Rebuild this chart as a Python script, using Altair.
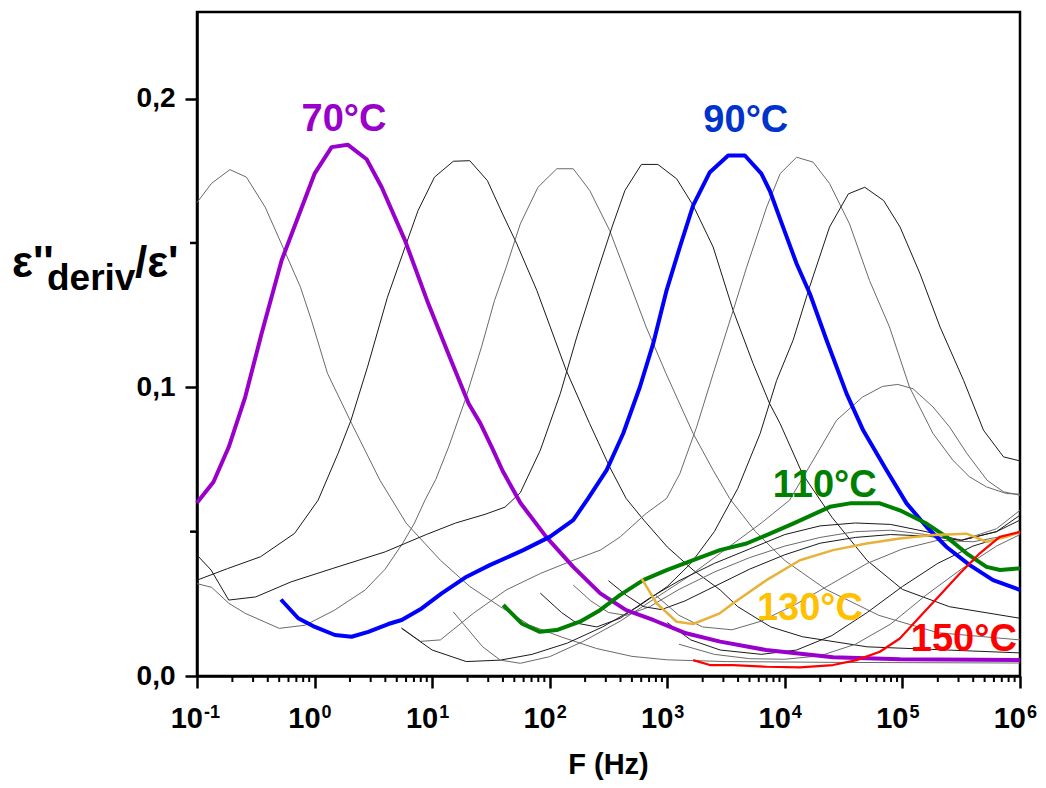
import altair as alt
import pandas as pd

FONT = "Liberation Sans"

# ---- curves: log10(F / Hz) and eps''_deriv / eps' values ----
T65_lg = [-1.0, -0.875, -0.72, -0.58, -0.42, -0.27, -0.12, -0.025, 0.11, 0.315, 0.556, 0.78, 1.07, 1.32, 1.58, 1.83, 2.1, 2.4, 2.7, 3.0, 3.5, 4.5, 6.0]
T65_v = [0.164, 0.1707, 0.1754, 0.1728, 0.1624, 0.1486, 0.1347, 0.123, 0.1048, 0.0875, 0.0678, 0.0529, 0.0401, 0.031, 0.024, 0.0176, 0.0135, 0.0095, 0.0068, 0.0056, 0.005, 0.0047, 0.0045]

T70_lg = [-1.0, -0.86, -0.73, -0.59, -0.45, -0.28, -0.14, 0.0, 0.145, 0.284, 0.443, 0.571, 0.769, 0.967, 1.137, 1.31, 1.41, 1.51, 1.6, 1.75, 1.97, 2.2, 2.43, 2.65, 2.88, 3.16, 3.45, 3.84, 4.41, 4.98, 6.0]
T70_v = [0.060, 0.0672, 0.0793, 0.0966, 0.1187, 0.144, 0.159, 0.174, 0.1832, 0.184, 0.179, 0.1693, 0.1509, 0.129, 0.1117, 0.0944, 0.0875, 0.079, 0.071, 0.060, 0.0482, 0.0378, 0.0286, 0.0228, 0.0194, 0.0148, 0.0119, 0.009, 0.0065, 0.0058, 0.0055]

T75_lg = [-1.0, -0.74, -0.46, -0.17, 0.03, 0.2, 0.31, 0.45, 0.62, 0.77, 0.88, 1.02, 1.18, 1.32, 1.47, 1.6, 1.72, 1.89, 2.14, 2.34, 2.51, 2.65, 2.8, 3.0, 3.22, 3.45, 3.6, 3.88, 4.15, 4.7, 6.0]
T75_v = [0.0332, 0.0372, 0.0413, 0.0494, 0.0609, 0.0771, 0.0886, 0.107, 0.1312, 0.1486, 0.1612, 0.1728, 0.1783, 0.1785, 0.1716, 0.16, 0.1497, 0.1336, 0.1059, 0.0874, 0.0724, 0.0615, 0.054, 0.0447, 0.0367, 0.0298, 0.024, 0.017, 0.0136, 0.0101, 0.008]

T80_lg = [-1.0, -0.875, -0.73, -0.59, -0.3, -0.08, 0.17, 0.43, 0.6, 0.75, 0.85, 0.94, 1.03, 1.14, 1.28, 1.42, 1.53, 1.63, 1.75, 1.9, 2.06, 2.2, 2.34, 2.51, 2.65, 2.82, 2.99, 3.22, 3.39, 3.53, 3.75, 4.0, 4.35, 4.8, 5.3, 6.0]
T80_v = [0.032, 0.0307, 0.0252, 0.0217, 0.0165, 0.0176, 0.0228, 0.0298, 0.037, 0.046, 0.053, 0.061, 0.068, 0.0793, 0.0955, 0.114, 0.13, 0.1416, 0.1566, 0.1693, 0.1757, 0.1757, 0.1682, 0.1543, 0.1393, 0.1209, 0.1047, 0.084, 0.0713, 0.0615, 0.05, 0.04, 0.03, 0.021, 0.015, 0.0125]

T85_lg = [-1.0, -0.88, -0.73, -0.5, -0.2, 0.15, 0.6, 0.95, 1.2, 1.45, 1.62, 1.75, 1.92, 2.09, 2.23, 2.4, 2.53, 2.64, 2.78, 2.92, 3.08, 3.22, 3.39, 3.56, 3.73, 3.87, 3.96, 4.15, 4.4, 4.7, 5.0, 5.4, 6.0]
T85_v = [0.0419, 0.0367, 0.0263, 0.0274, 0.0326, 0.0372, 0.043, 0.049, 0.053, 0.056, 0.0585, 0.0635, 0.0782, 0.0978, 0.1174, 0.1393, 0.1555, 0.1682, 0.1772, 0.1772, 0.1722, 0.163, 0.1486, 0.1266, 0.1082, 0.0944, 0.0874, 0.07, 0.055, 0.04, 0.03, 0.024, 0.02]

T90_lg = [-0.286, -0.139, 0.003, 0.173, 0.315, 0.457, 0.627, 0.741, 0.911, 1.081, 1.293, 1.49, 1.775, 2.0, 2.2, 2.327, 2.484, 2.625, 2.767, 2.88, 2.994, 3.107, 3.22, 3.362, 3.518, 3.66, 3.8, 3.873, 3.985, 4.1, 4.213, 4.355, 4.525, 4.666, 4.865, 5.035, 5.205, 5.375, 5.573, 5.771, 6.0]
T90_v = [0.0265, 0.020, 0.017, 0.0142, 0.0136, 0.0153, 0.018, 0.0194, 0.0234, 0.0286, 0.0344, 0.0384, 0.0436, 0.0482, 0.054, 0.0615, 0.0713, 0.084, 0.1001, 0.1151, 0.1336, 0.1486, 0.163, 0.1745, 0.1803, 0.1803, 0.174, 0.168, 0.1555, 0.1428, 0.1324, 0.1163, 0.0978, 0.0851, 0.0713, 0.0598, 0.0517, 0.0447, 0.0384, 0.0332, 0.0298]

T95_lg = [0.74, 0.9, 1.07, 1.35, 1.63, 1.92, 2.2, 2.43, 2.6, 2.82, 2.994, 3.107, 3.25, 3.39, 3.56, 3.675, 3.845, 3.96, 4.1, 4.24, 4.38, 4.55, 4.72, 4.89, 5.06, 5.26, 5.43, 5.57, 5.715, 5.885, 6.0]
T95_v = [0.0167, 0.012, 0.0125, 0.0217, 0.0298, 0.0355, 0.0401, 0.0436, 0.0482, 0.0563, 0.0615, 0.0701, 0.0863, 0.1047, 0.1266, 0.1416, 0.1624, 0.174, 0.1797, 0.178, 0.1706, 0.1566, 0.137, 0.1209, 0.1001, 0.084, 0.0747, 0.069, 0.0655, 0.0632, 0.063]

T100_lg = [0.74, 1.0, 1.29, 1.58, 1.85, 2.15, 2.45, 2.75, 3.0, 3.2, 3.4, 3.6, 3.79, 3.93, 4.07, 4.21, 4.38, 4.54, 4.68, 4.84, 4.98, 5.15, 5.32, 5.52, 5.69, 5.86, 6.0]
T100_v = [0.0165, 0.009, 0.005, 0.0055, 0.0075, 0.0114, 0.017, 0.024, 0.031, 0.039, 0.05, 0.065, 0.084, 0.1024, 0.1163, 0.1347, 0.1555, 0.167, 0.1693, 0.1647, 0.1555, 0.1393, 0.1209, 0.1024, 0.0851, 0.0759, 0.0745]

T105_lg = [1.18, 1.43, 1.58, 1.75, 2.0, 2.28, 2.6, 2.9, 3.2, 3.5, 3.8, 4.04, 4.24, 4.44, 4.66, 4.83, 4.96, 5.09, 5.26, 5.4, 5.55, 5.72, 5.86, 6.0]
T105_v = [0.0222, 0.0101, 0.0055, 0.0044, 0.0067, 0.0119, 0.019, 0.027, 0.035, 0.044, 0.053, 0.0609, 0.0747, 0.0886, 0.0966, 0.1003, 0.101, 0.0995, 0.0932, 0.0863, 0.077, 0.0678, 0.0638, 0.0626]

T110_lg = [1.605, 1.761, 1.917, 2.059, 2.257, 2.427, 2.597, 2.795, 2.994, 3.22, 3.447, 3.674, 3.844, 4.07, 4.383, 4.553, 4.808, 4.978, 5.205, 5.375, 5.545, 5.715, 5.83, 6.0]
T110_v = [0.0246, 0.0182, 0.0153, 0.0159, 0.0188, 0.0228, 0.028, 0.0332, 0.0367, 0.0401, 0.0436, 0.0459, 0.0488, 0.0528, 0.0586, 0.0598, 0.0598, 0.0574, 0.0528, 0.0482, 0.0425, 0.0378, 0.0367, 0.0373]

T115_lg = [1.92, 2.1, 2.23, 2.4, 2.6, 2.85, 3.1, 3.4, 3.7, 4.0, 4.3, 4.6, 4.9, 5.2, 5.5, 5.8, 6.0]
T115_v = [0.0287, 0.022, 0.0183, 0.017, 0.02, 0.027, 0.033, 0.039, 0.044, 0.049, 0.052, 0.053, 0.0525, 0.05, 0.047, 0.05, 0.0557]

T120_lg = [2.2, 2.35, 2.5, 2.65, 2.85, 3.1, 3.4, 3.7, 4.0, 4.3, 4.6, 4.9, 5.2, 5.5, 5.8, 6.0]
T120_v = [0.0315, 0.026, 0.022, 0.021, 0.024, 0.03, 0.036, 0.041, 0.045, 0.048, 0.05, 0.0505, 0.049, 0.047, 0.051, 0.0574]

T125_lg = [2.5, 2.65, 2.8, 2.95, 3.15, 3.4, 3.7, 4.0, 4.3, 4.6, 4.9, 5.2, 5.5, 5.8, 6.0]
T125_v = [0.033, 0.028, 0.024, 0.023, 0.026, 0.031, 0.037, 0.042, 0.046, 0.048, 0.049, 0.0485, 0.047, 0.05, 0.054]

T130_lg = [2.781, 2.909, 3.079, 3.22, 3.447, 3.56, 3.844, 4.128, 4.41, 4.695, 4.978, 5.261, 5.545, 5.715, 5.885, 6.0]
T130_v = [0.0338, 0.0252, 0.0188, 0.018, 0.0217, 0.0252, 0.0332, 0.0401, 0.0436, 0.0459, 0.0476, 0.0488, 0.0493, 0.0465, 0.0482, 0.0499]

T135_lg = [2.9, 3.1, 3.3, 3.55, 3.8, 4.1, 4.4, 4.7, 5.0, 5.3, 5.6, 6.0]
T135_v = [0.028, 0.021, 0.017, 0.016, 0.019, 0.025, 0.032, 0.039, 0.044, 0.047, 0.0465, 0.0495]

T140_lg = [3.0, 3.2, 3.45, 3.8, 4.1, 4.4, 4.7, 5.0, 5.3, 5.6, 6.0]
T140_v = [0.0185, 0.0125, 0.009, 0.0075, 0.009, 0.014, 0.022, 0.031, 0.039, 0.045, 0.05]

T145_lg = [3.1, 3.4, 3.7, 4.0, 4.3, 4.6, 4.9, 5.2, 5.5, 5.8, 6.0]
T145_v = [0.011, 0.0075, 0.006, 0.0058, 0.007, 0.011, 0.018, 0.028, 0.037, 0.045, 0.049]

T150_lg = [3.22, 3.362, 3.56, 3.844, 4.128, 4.41, 4.61, 4.808, 4.978, 5.148, 5.318, 5.488, 5.658, 5.828, 6.0]
T150_v = [0.0055, 0.0038, 0.0038, 0.0032, 0.003, 0.0038, 0.0055, 0.0084, 0.013, 0.0205, 0.028, 0.0355, 0.0425, 0.0482, 0.0499]

# thin background curves: (name, shade, lg, v)
gray_curves = [
    ("65", "g", T65_lg, T65_v), ("75", "k", T75_lg, T75_v), ("80", "g", T80_lg, T80_v),
    ("85", "k", T85_lg, T85_v), ("95", "g", T95_lg, T95_v), ("100", "k", T100_lg, T100_v),
    ("105", "g", T105_lg, T105_v), ("115", "k", T115_lg, T115_v), ("120", "g", T120_lg, T120_v),
    ("125", "k", T125_lg, T125_v), ("135", "g", T135_lg, T135_v), ("140", "k", T140_lg, T140_v),
    ("145", "g", T145_lg, T145_v),
]
# highlighted curves: (name, colour, width, lg, v)
bold_curves = [
    ("70", "#9900CC", 4.0, T70_lg, T70_v),
    ("90", "#0000FF", 4.0, T90_lg, T90_v),
    ("110", "#008000", 4.0, T110_lg, T110_v),
    ("130", "#E8B23A", 2.5, T130_lg, T130_v),
    ("150", "#FF0000", 2.2, T150_lg, T150_v),
]
# curve labels: text, colour, log10 F, value (baseline)
label_text = ["70°C", "90°C", "110°C", "130°C", "150°C"]
label_color = ["#9900CC", "#0033CC", "#008000", "#FFC000", "#FF0000"]
label_lg = [0.25, 3.668, 4.339, 4.213, 5.522]
label_v = [0.1887, 0.1883, 0.0619, 0.0194, 0.0087]

# axis ticks
x_major = [0.1, 1, 10, 100, 1000, 10000, 100000, 1000000]
x_exp = ["-1", "0", "1", "2", "3", "4", "5", "6"]
x_minor = [m * 10.0 ** k for k in range(-1, 6) for m in range(2, 10)]
y_major = [0.0, 0.1, 0.2]
y_minor = [0.05, 0.15]

W, H = 823, 664

rows = []
for name, shade, lgs, vs in gray_curves:
    for i, (a, b) in enumerate(zip(lgs, vs)):
        rows.append({"series": name, "shade": shade, "idx": i, "f": 10 ** a, "v": b})
df_gray = pd.DataFrame(rows)

xs = alt.Scale(type="log", domain=[0.1, 1e6])
ys = alt.Scale(domain=[0, 0.23])

x_axis = alt.Axis(values=x_major, labels=False, title=None, tickSize=12,
                  tickWidth=2.5, tickColor="black", domainColor="black",
                  domainWidth=2.5, grid=False)
y_axis = alt.Axis(values=y_major, title=None, tickSize=12, tickWidth=2.5,
                  tickColor="black", domainColor="black", domainWidth=2.5,
                  grid=False, labelFont=FONT, labelFontWeight="bold",
                  labelFontSize=28, labelColor="black", labelPadding=10,
                  labelExpr="replace(format(datum.value, '.1f'), '.', ',')")


def X():
    return alt.X("f:Q", scale=xs, axis=x_axis)


def Y():
    return alt.Y("v:Q", scale=ys, axis=y_axis)


gray = alt.Chart(df_gray).mark_line(strokeWidth=1, strokeJoin="round").encode(
    x=X(), y=Y(), detail="series:N", order="idx:Q",
    color=alt.Color("shade:N", scale=alt.Scale(domain=["k", "g"], range=["#1a1a1a", "#6a6a6a"]), legend=None),
)

layers = [gray]
for name, col, wdt, lgs, vs in bold_curves:
    d = pd.DataFrame({"f": [10 ** a for a in lgs], "v": vs, "idx": list(range(len(vs)))})
    layers.append(alt.Chart(d).mark_line(strokeWidth=wdt, color=col, strokeJoin="round").encode(
        x=X(), y=Y(), order="idx:Q"))

for t, c, a, b in zip(label_text, label_color, label_lg, label_v):
    d = pd.DataFrame({"f": [10 ** a], "v": [b], "t": [t]})
    layers.append(alt.Chart(d).mark_text(font=FONT, fontWeight="bold", fontSize=38, color=c,
                                         align="center", baseline="alphabetic").encode(
        x=X(), y=Y(), text="t:N"))

# minor ticks
df_xm = pd.DataFrame({"f": x_minor})
layers.append(alt.Chart(df_xm).mark_rule(color="black", strokeWidth=2).encode(
    x=X(), y=alt.value(H), y2=alt.value(H + 6)))
df_ym = pd.DataFrame({"v": y_minor})
layers.append(alt.Chart(df_ym).mark_rule(color="black", strokeWidth=2.5).encode(
    y=Y(), x=alt.value(-7), x2=alt.value(0)))

# x tick labels 10^n
df_xl = pd.DataFrame({"f": x_major, "b": ["10"] * len(x_major), "e": x_exp})
layers.append(alt.Chart(df_xl).mark_text(font=FONT, fontWeight="bold", fontSize=29, color="black",
                                         align="right", baseline="alphabetic", dx=6).encode(
    x=X(), y=alt.value(H + 52), text="b:N"))
layers.append(alt.Chart(df_xl).mark_text(font=FONT, fontWeight="bold", fontSize=18, color="black",
                                         align="left", baseline="alphabetic", dx=7).encode(
    x=X(), y=alt.value(H + 42), text="e:N"))


# axis titles
def txt(s, x, y, size, align="left"):
    d = pd.DataFrame({"t": [s]})
    return alt.Chart(d).mark_text(font=FONT, fontWeight="bold", fontSize=size, color="black",
                                  align=align, baseline="alphabetic").encode(
        x=alt.value(x), y=alt.value(y), text="t:N")


layers.append(txt("F (Hz)", W / 2, H + 98, 29, "center"))
layers.append(txt("ε''", -185, 265, 44))
layers.append(txt("deriv", -150, 278, 37))
layers.append(txt("/ε'", -62, 265, 44))

chart = alt.layer(*layers).properties(
    width=W, height=H,
    autosize=alt.AutoSizeParams(type="none"),
    padding={"left": 189, "top": 4, "right": 18, "bottom": 104},
).configure_view(stroke="black", strokeWidth=2.5)

chart.save("out.html", embed_options={"renderer": "svg", "actions": False})
